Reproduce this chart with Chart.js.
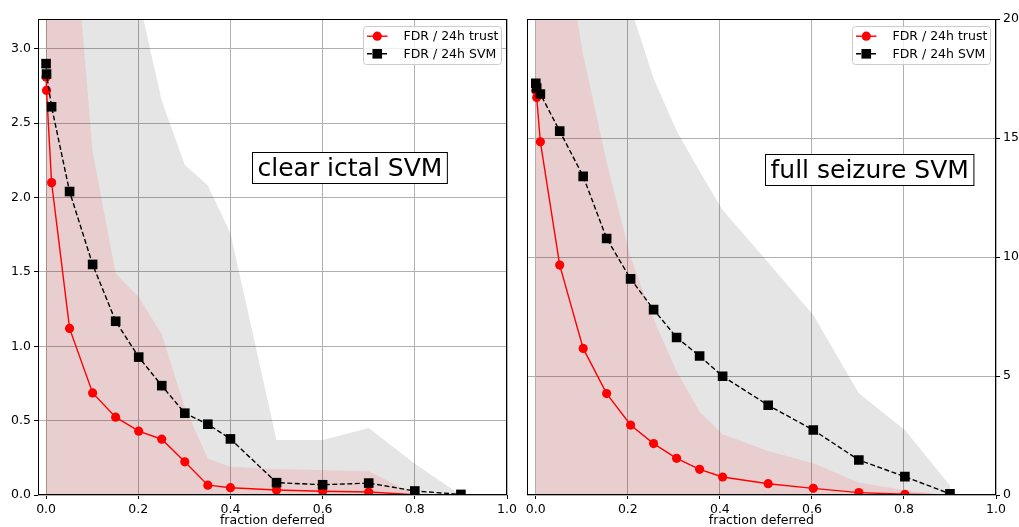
<!DOCTYPE html>
<html><head><meta charset="utf-8">
<script src="https://cdn.jsdelivr.net/npm/chart.js@4.4.0/dist/chart.umd.min.js"></script>
<style>
html,body{margin:0;padding:0;background:#fff;}
#wrap{position:relative;width:1019px;height:527px;overflow:hidden;background:#fff;}
canvas{position:absolute;top:0;}
</style></head><body>
<div id="wrap">
<canvas id="c1" width="520" height="527" style="left:0;width:520px;height:527px"></canvas>
<canvas id="c2" width="499" height="527" style="left:520px;width:499px;height:527px"></canvas>
</div>
<script>
// ---------- data ----------
const xLeft = [0, 0.001, 0.012, 0.051, 0.101, 0.151, 0.201, 0.251, 0.301, 0.351, 0.4, 0.5, 0.6, 0.7, 0.8, 0.9];
const trustLeft = [2.81, 2.72, 2.10, 1.12, 0.686, 0.523, 0.429, 0.375, 0.223, 0.066, 0.049, 0.034, 0.025, 0.02, 0.002, 0.0];
const svmLeft = [2.90, 2.83, 2.61, 2.04, 1.55, 1.168, 0.927, 0.735, 0.55, 0.476, 0.377, 0.083, 0.069, 0.08, 0.027, 0.004];
const trustBandLeft = [5.5, 5.3, 5.0, 4.17, 2.31, 1.49, 1.33, 1.08, 0.59, 0.246, 0.19, 0.175, 0.168, 0.16, 0.005, 0.0];
const svmBandLeft = [6.5, 6.4, 6.2, 5.6, 4.8, 4.0, 3.34, 2.65, 2.22, 2.08, 1.76, 0.37, 0.37, 0.45, 0.21, 0.0];

const xRight = [0, 0.002, 0.01, 0.052, 0.103, 0.154, 0.206, 0.256, 0.306, 0.356, 0.406, 0.505, 0.603, 0.702, 0.802, 0.9];
const trustRight = [17.0, 16.7, 14.84, 9.66, 6.16, 4.26, 2.94, 2.16, 1.54, 1.08, 0.756, 0.475, 0.28, 0.10, 0.03, 0.0];
const svmRight = [17.3, 17.1, 16.85, 15.29, 13.39, 10.78, 9.08, 7.79, 6.62, 5.84, 4.99, 3.77, 2.73, 1.47, 0.77, 0.05];
const trustBandRight = [32, 31, 30, 24.4, 18.5, 14.0, 10.0, 7.4, 5.2, 3.5, 2.55, 1.85, 1.33, 0.52, 0.2, 0.0];
const svmBandRight = [40, 39, 38, 34, 30, 26, 20.5, 17.5, 15.3, 13.6, 11.97, 9.77, 7.56, 4.27, 2.73, 0.4];

const xTicks = [0, 0.2, 0.4, 0.6, 0.8, 1.0];
const yTicksLeft = [0, 0.5, 1.0, 1.5, 2.0, 2.5, 3.0];
const yTicksRight = [0, 5, 10, 15, 20];

const seriesNames = ['FDR / 24h trust', 'FDR / 24h SVM'];
const xTitle = 'fraction deferred';
const panelTitles = ['clear ictal SVM', 'full seizure SVM'];

// ---------- helpers ----------
const FONT = "'DejaVu Sans', 'Liberation Sans', sans-serif";
const FS = 12.5;
function pts(xs, ys) { return xs.map((x, i) => ({ x: x, y: ys[i] })); }

const framePlugin = {
  id: 'frame',
  afterDatasetsDraw(chart) {
    const { ctx, chartArea: a } = chart;
    ctx.save();
    ctx.strokeStyle = '#000';
    ctx.lineWidth = 1;
    ctx.strokeRect(Math.round(a.left) + 0.5, Math.round(a.top) + 0.5,
      Math.round(a.right - a.left) - 1, Math.round(a.bottom - a.top) - 1);
    ctx.restore();
  }
};

function drawMarker(ctx, ds, x, y) {
  ctx.save();
  ctx.fillStyle = ds.backgroundColor;
  if (ds.pointStyle === 'rect') {
    const s = Math.SQRT1_2 * ds.pointRadius;
    ctx.fillRect(x - s, y - s, 2 * s, 2 * s);
  } else {
    ctx.beginPath();
    ctx.arc(x, y, ds.pointRadius, 0, Math.PI * 2);
    ctx.fill();
  }
  ctx.restore();
}

const mplLegendPlugin = {
  id: 'mplLegend',
  afterDraw(chart) {
    const { ctx, chartArea: a } = chart;
    const w = 138, h = 38;
    const bx = Math.round(a.right - 6 - w) + 0.5, by = Math.round(a.top + 7) + 0.5;
    ctx.save();
    ctx.beginPath();
    const r = 3;
    ctx.moveTo(bx + r, by);
    ctx.lineTo(bx + w - r, by); ctx.arcTo(bx + w, by, bx + w, by + r, r);
    ctx.lineTo(bx + w, by + h - r); ctx.arcTo(bx + w, by + h, bx + w - r, by + h, r);
    ctx.lineTo(bx + r, by + h); ctx.arcTo(bx, by + h, bx, by + h - r, r);
    ctx.lineTo(bx, by + r); ctx.arcTo(bx, by, bx + r, by, r);
    ctx.closePath();
    ctx.fillStyle = 'rgba(255,255,255,0.8)';
    ctx.fill();
    ctx.strokeStyle = '#cccccc';
    ctx.lineWidth = 1;
    ctx.stroke();
    const rows = [by + 9.7, by + 27.3];
    for (let i = 0; i < 2; i++) {
      const ds = chart.data.datasets[i];
      const y = rows[i];
      ctx.save();
      ctx.strokeStyle = ds.borderColor;
      ctx.lineWidth = ds.borderWidth;
      ctx.setLineDash(ds.borderDash || []);
      ctx.beginPath();
      ctx.moveTo(bx + 3.5, y);
      ctx.lineTo(bx + 24, y);
      ctx.stroke();
      ctx.restore();
      drawMarker(ctx, ds, bx + 13.75, y);
      ctx.fillStyle = '#000';
      ctx.font = FS + 'px ' + FONT;
      ctx.textBaseline = 'middle';
      ctx.textAlign = 'left';
      ctx.fillText(ds.label, bx + 40, y + 0.5);
    }
    ctx.restore();
  }
};

const boxTextPlugin = {
  id: 'boxText',
  afterDraw(chart, args, opts) {
    const { ctx, chartArea: a } = chart;
    const cx = a.left + opts.fx * (a.right - a.left);
    const cy = a.top + opts.fy * (a.bottom - a.top);
    ctx.save();
    ctx.font = '25px ' + FONT;
    const tw = ctx.measureText(opts.text).width;
    const w = tw + 10, h = 31;
    const x0 = Math.round(cx - w / 2) + 0.5, y0 = Math.round(cy - h / 2) + 0.5;
    ctx.fillStyle = '#fff';
    ctx.fillRect(x0, y0, w, h);
    ctx.strokeStyle = '#000';
    ctx.lineWidth = 1;
    ctx.strokeRect(x0, y0, w, h);
    ctx.fillStyle = '#000';
    ctx.textAlign = 'center';
    ctx.textBaseline = 'middle';
    ctx.fillText(opts.text, x0 + w / 2, y0 + h / 2 + 1);
    ctx.restore();
  }
};

function makeChart(id, xs, trust, svm, trustBand, svmBand, yTicks, xMin, yMax, side, title, fx, fy, pad, yWidth, yPad, yFmt) {
  const ctx = document.getElementById(id).getContext('2d');
  return new Chart(ctx, {
    type: 'line',
    data: {
      datasets: [
        { label: seriesNames[0], data: pts(xs, trust), borderColor: '#ff0000', backgroundColor: '#ff0000',
          pointBorderColor: '#ff0000', pointBackgroundColor: '#ff0000', borderWidth: 1.4,
          pointRadius: 4.6, pointBorderWidth: 0, pointStyle: 'circle', fill: false, tension: 0, order: 1 },
        { label: seriesNames[1], data: pts(xs, svm), borderColor: '#000000', backgroundColor: '#000000',
          pointBorderColor: '#000000', pointBackgroundColor: '#000000', borderWidth: 1.4, borderDash: [5, 2.5],
          pointRadius: 6.8, pointBorderWidth: 0, pointStyle: 'rect', fill: false, tension: 0, order: 0 },
        { label: 'trust band', data: pts(xs, trustBand), borderColor: 'rgba(0,0,0,0)', borderWidth: 0,
          pointRadius: 0, fill: 'origin', backgroundColor: 'rgba(255,0,0,0.1)', tension: 0, order: 2 },
        { label: 'svm band', data: pts(xs, svmBand), borderColor: 'rgba(0,0,0,0)', borderWidth: 0,
          pointRadius: 0, fill: 'origin', backgroundColor: 'rgba(0,0,0,0.1)', tension: 0, order: 3 }
      ]
    },
    options: {
      responsive: false,
      animation: false,
      events: [],
      layout: { padding: pad },
      plugins: {
        legend: { display: false },
        tooltip: { enabled: false },
        boxText: { text: title, fx: fx, fy: fy }
      },
      scales: {
        x: {
          type: 'linear', min: xMin, max: 1.0,
          afterBuildTicks: ax => { ax.ticks = xTicks.map(v => ({ value: v })); },
          afterFit: ax => { ax.height = 32; },
          ticks: { font: { family: FONT, size: FS }, color: '#000', padding: 3, maxRotation: 0, autoSkip: false,
            callback: v => Number(v).toFixed(1) },
          grid: { color: '#b0b0b0', lineWidth: 1, tickColor: '#000', tickLength: 4, drawTicks: true },
          border: { display: false },
          title: { display: true, text: xTitle, color: '#000', font: { family: FONT, size: FS, lineHeight: 1 },
            padding: { top: 0, bottom: 0 } }
        },
        y: {
          type: 'linear', position: side, min: 0, max: yMax,
          afterBuildTicks: ax => { ax.ticks = yTicks.map(v => ({ value: v })); },
          afterFit: ax => { ax.width = yWidth; },
          ticks: { font: { family: FONT, size: FS }, color: '#000', padding: yPad, autoSkip: false, callback: yFmt },
          grid: { color: '#b0b0b0', lineWidth: 1, tickColor: '#000', tickLength: 4, drawTicks: true },
          border: { display: false }
        }
      }
    },
    plugins: [framePlugin, mplLegendPlugin, boxTextPlugin]
  });
}

makeChart('c1', xLeft, trustLeft, svmLeft, trustBandLeft, svmBandLeft, yTicksLeft, -0.0175, 3.2, 'left',
  panelTitles[0], 0.663, 0.312, { top: 19, right: 13, left: 0, bottom: 0 }, 38, 3, v => Number(v).toFixed(1));
makeChart('c2', xRight, trustRight, svmRight, trustBandRight, svmBandRight, yTicksRight, -0.0195, 20, 'right',
  panelTitles[1], 0.729, 0.317, { top: 19, right: 0, left: 6, bottom: 0 }, 23, 3, v => String(v));
</script>
</body></html>
